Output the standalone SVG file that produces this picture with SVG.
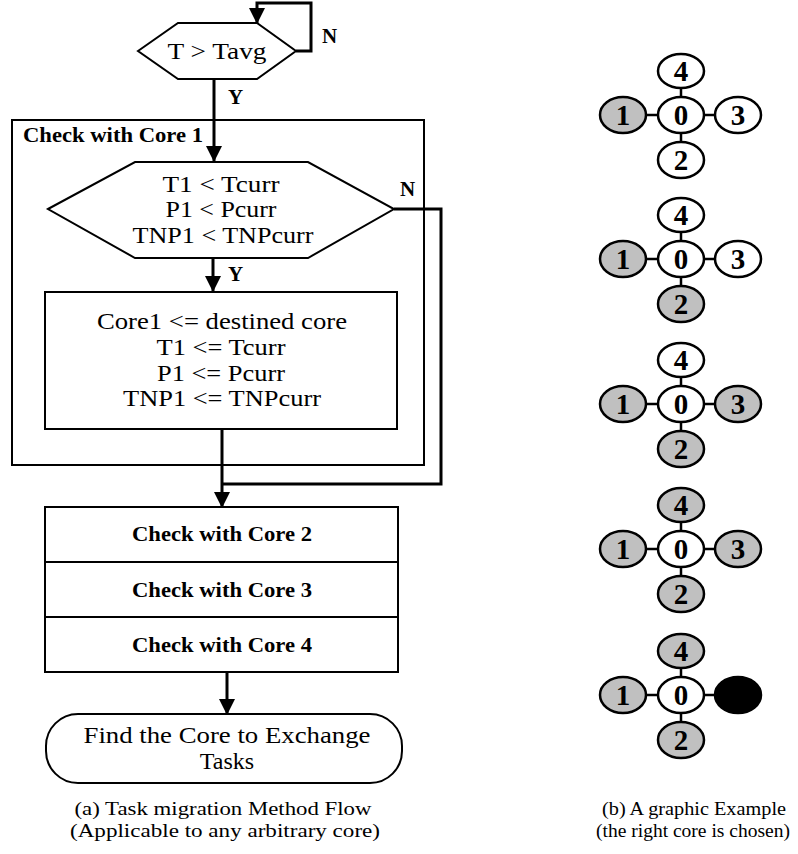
<svg xmlns="http://www.w3.org/2000/svg" width="798" height="854" viewBox="0 0 798 854">
<defs>
<marker id="arr" markerUnits="userSpaceOnUse" markerWidth="16" markerHeight="16" viewBox="0 0 16 16" refX="15" refY="8" orient="auto">
<path d="M0,0 L16,8 L0,16 Z" fill="#000"/>
</marker>
</defs>
<style>
.shape{fill:#fff;stroke:#000;stroke-width:2}
.frame{fill:none;stroke:#000;stroke-width:2}
.conn{fill:none;stroke:#000;stroke-width:3}
.t{font-family:"Liberation Serif","Times New Roman",serif;font-size:24px;fill:#000;text-anchor:middle}
.b{font-family:"Liberation Serif","Times New Roman",serif;font-size:21px;font-weight:bold;fill:#000}
.cap{font-family:"Liberation Serif","Times New Roman",serif;font-size:19px;fill:#000;text-anchor:middle}
.nd{stroke:#000;stroke-width:2.5}
.w{fill:#fff}
.g{fill:#c0c0c0}
.k{fill:#000}
.num{font-family:"Liberation Serif","Times New Roman",serif;font-size:29px;font-weight:bold;fill:#000;text-anchor:middle}
.lk{stroke:#000;stroke-width:2.5}
</style>
<rect width="798" height="854" fill="#fff"/>

<g id="check-core1-frame">
<rect class="frame" x="12" y="120" width="412" height="345"/>
<text class="b" x="23" y="142" textLength="180" lengthAdjust="spacingAndGlyphs">Check with Core 1</text>
</g>

<g id="decision-tavg">
<polygon class="shape" points="138,51 178,23 257,23 296,51 257,79 178,79"/>
<text class="t" x="217" y="59" font-size="26" textLength="99" lengthAdjust="spacingAndGlyphs">T &gt; Tavg</text>
</g>

<g id="decision-core1">
<polygon class="shape" points="48,209 135,162 308,162 394,209 308,258 135,258"/>
<text class="t" x="221" y="192" textLength="117" lengthAdjust="spacingAndGlyphs">T1 &lt; Tcurr</text>
<text class="t" x="221" y="217" textLength="111" lengthAdjust="spacingAndGlyphs">P1 &lt; Pcurr</text>
<text class="t" x="223" y="243" textLength="181" lengthAdjust="spacingAndGlyphs">TNP1 &lt; TNPcurr</text>
</g>

<g id="assign-core1">
<rect class="shape" x="45" y="292" width="352" height="137"/>
<text class="t" x="222" y="329" textLength="250" lengthAdjust="spacingAndGlyphs">Core1 &lt;= destined core</text>
<text class="t" x="221" y="355" textLength="129" lengthAdjust="spacingAndGlyphs">T1 &lt;= Tcurr</text>
<text class="t" x="221" y="381" textLength="128" lengthAdjust="spacingAndGlyphs">P1 &lt;= Pcurr</text>
<text class="t" x="222" y="406" textLength="198" lengthAdjust="spacingAndGlyphs">TNP1 &lt;= TNPcurr</text>
</g>

<g id="check-core2">
<rect class="shape" x="45" y="507" width="353" height="55"/>
<text class="b" x="222" y="541" text-anchor="middle" textLength="180" lengthAdjust="spacingAndGlyphs">Check with Core 2</text>
</g>
<g id="check-core3">
<rect class="shape" x="45" y="562" width="353" height="55"/>
<text class="b" x="222" y="597" text-anchor="middle" textLength="180" lengthAdjust="spacingAndGlyphs">Check with Core 3</text>
</g>
<g id="check-core4">
<rect class="shape" x="45" y="617" width="353" height="55"/>
<text class="b" x="222" y="652" text-anchor="middle" textLength="180" lengthAdjust="spacingAndGlyphs">Check with Core 4</text>
</g>

<g id="find-core">
<rect class="shape" x="46" y="714" width="356" height="69" rx="32" ry="32"/>
<text class="t" x="227" y="743" textLength="287" lengthAdjust="spacingAndGlyphs">Find the Core to Exchange</text>
<text class="t" x="227" y="769">Tasks</text>
</g>

<g id="connectors">
<path class="conn" d="M296,51 H311 V3 H257 V23" marker-end="url(#arr)"/>
<path class="conn" d="M214,79 V161" marker-end="url(#arr)"/>
<path class="conn" d="M213,258 V291" marker-end="url(#arr)"/>
<path class="conn" d="M394,209 H441 V484 H222"/>
<path class="conn" d="M222,429 V507" marker-end="url(#arr)"/>
<path class="conn" d="M227,672 V714" marker-end="url(#arr)"/>
<text class="b" x="322" y="43" font-size="17">N</text>
<text class="b" x="228" y="104" font-size="17">Y</text>
<text class="b" x="400" y="196" font-size="17">N</text>
<text class="b" x="228" y="281" font-size="17">Y</text>
</g>

<g id="caption-a">
<text class="cap" x="223" y="815" textLength="297" lengthAdjust="spacingAndGlyphs">(a) Task migration Method Flow</text>
<text class="cap" x="225" y="837" textLength="310" lengthAdjust="spacingAndGlyphs">(Applicable to any arbitrary core)</text>
</g>

<g id="example-1" transform="translate(0,115)">
<line class="lk" x1="600" y1="0" x2="761" y2="0"/>
<line class="lk" x1="681" y1="-44" x2="681" y2="45"/>
<ellipse class="nd w" cx="681" cy="-44" rx="23" ry="17"/>
<ellipse class="nd g" cx="623" cy="0" rx="23" ry="18"/>
<ellipse class="nd w" cx="681" cy="0" rx="23" ry="18"/>
<ellipse class="nd w" cx="738" cy="0" rx="23" ry="18"/>
<ellipse class="nd w" cx="681" cy="45" rx="23" ry="18"/>
<text class="num" x="681" y="-34">4</text>
<text class="num" x="623" y="10">1</text>
<text class="num" x="681" y="10">0</text>
<text class="num" x="738" y="10">3</text>
<text class="num" x="681" y="55">2</text>
</g>

<g id="example-2" transform="translate(0,259)">
<line class="lk" x1="600" y1="0" x2="761" y2="0"/>
<line class="lk" x1="681" y1="-44" x2="681" y2="45"/>
<ellipse class="nd w" cx="681" cy="-44" rx="23" ry="17"/>
<ellipse class="nd g" cx="623" cy="0" rx="23" ry="18"/>
<ellipse class="nd w" cx="681" cy="0" rx="23" ry="18"/>
<ellipse class="nd w" cx="738" cy="0" rx="23" ry="18"/>
<ellipse class="nd g" cx="681" cy="45" rx="23" ry="18"/>
<text class="num" x="681" y="-34">4</text>
<text class="num" x="623" y="10">1</text>
<text class="num" x="681" y="10">0</text>
<text class="num" x="738" y="10">3</text>
<text class="num" x="681" y="55">2</text>
</g>

<g id="example-3" transform="translate(0,404)">
<line class="lk" x1="600" y1="0" x2="761" y2="0"/>
<line class="lk" x1="681" y1="-44" x2="681" y2="45"/>
<ellipse class="nd w" cx="681" cy="-44" rx="23" ry="17"/>
<ellipse class="nd g" cx="623" cy="0" rx="23" ry="18"/>
<ellipse class="nd w" cx="681" cy="0" rx="23" ry="18"/>
<ellipse class="nd g" cx="738" cy="0" rx="23" ry="18"/>
<ellipse class="nd g" cx="681" cy="45" rx="23" ry="18"/>
<text class="num" x="681" y="-34">4</text>
<text class="num" x="623" y="10">1</text>
<text class="num" x="681" y="10">0</text>
<text class="num" x="738" y="10">3</text>
<text class="num" x="681" y="55">2</text>
</g>

<g id="example-4" transform="translate(0,549)">
<line class="lk" x1="600" y1="0" x2="761" y2="0"/>
<line class="lk" x1="681" y1="-44" x2="681" y2="45"/>
<ellipse class="nd g" cx="681" cy="-44" rx="23" ry="17"/>
<ellipse class="nd g" cx="623" cy="0" rx="23" ry="18"/>
<ellipse class="nd w" cx="681" cy="0" rx="23" ry="18"/>
<ellipse class="nd g" cx="738" cy="0" rx="23" ry="18"/>
<ellipse class="nd g" cx="681" cy="45" rx="23" ry="18"/>
<text class="num" x="681" y="-34">4</text>
<text class="num" x="623" y="10">1</text>
<text class="num" x="681" y="10">0</text>
<text class="num" x="738" y="10">3</text>
<text class="num" x="681" y="55">2</text>
</g>

<g id="example-5" transform="translate(0,695)">
<line class="lk" x1="600" y1="0" x2="761" y2="0"/>
<line class="lk" x1="681" y1="-44" x2="681" y2="45"/>
<ellipse class="nd g" cx="681" cy="-44" rx="23" ry="17"/>
<ellipse class="nd g" cx="623" cy="0" rx="23" ry="18"/>
<ellipse class="nd w" cx="681" cy="0" rx="23" ry="18"/>
<ellipse class="nd k" cx="738" cy="0" rx="23" ry="18"/>
<ellipse class="nd g" cx="681" cy="45" rx="23" ry="18"/>
<text class="num" x="681" y="-34">4</text>
<text class="num" x="623" y="10">1</text>
<text class="num" x="681" y="10">0</text>
<text class="num" x="681" y="55">2</text>
</g>

<g id="caption-b">
<text class="cap" x="694" y="815" textLength="184" lengthAdjust="spacingAndGlyphs">(b) A graphic Example</text>
<text class="cap" x="693" y="837" textLength="194" lengthAdjust="spacingAndGlyphs">(the right core is chosen)</text>
</g>
</svg>
